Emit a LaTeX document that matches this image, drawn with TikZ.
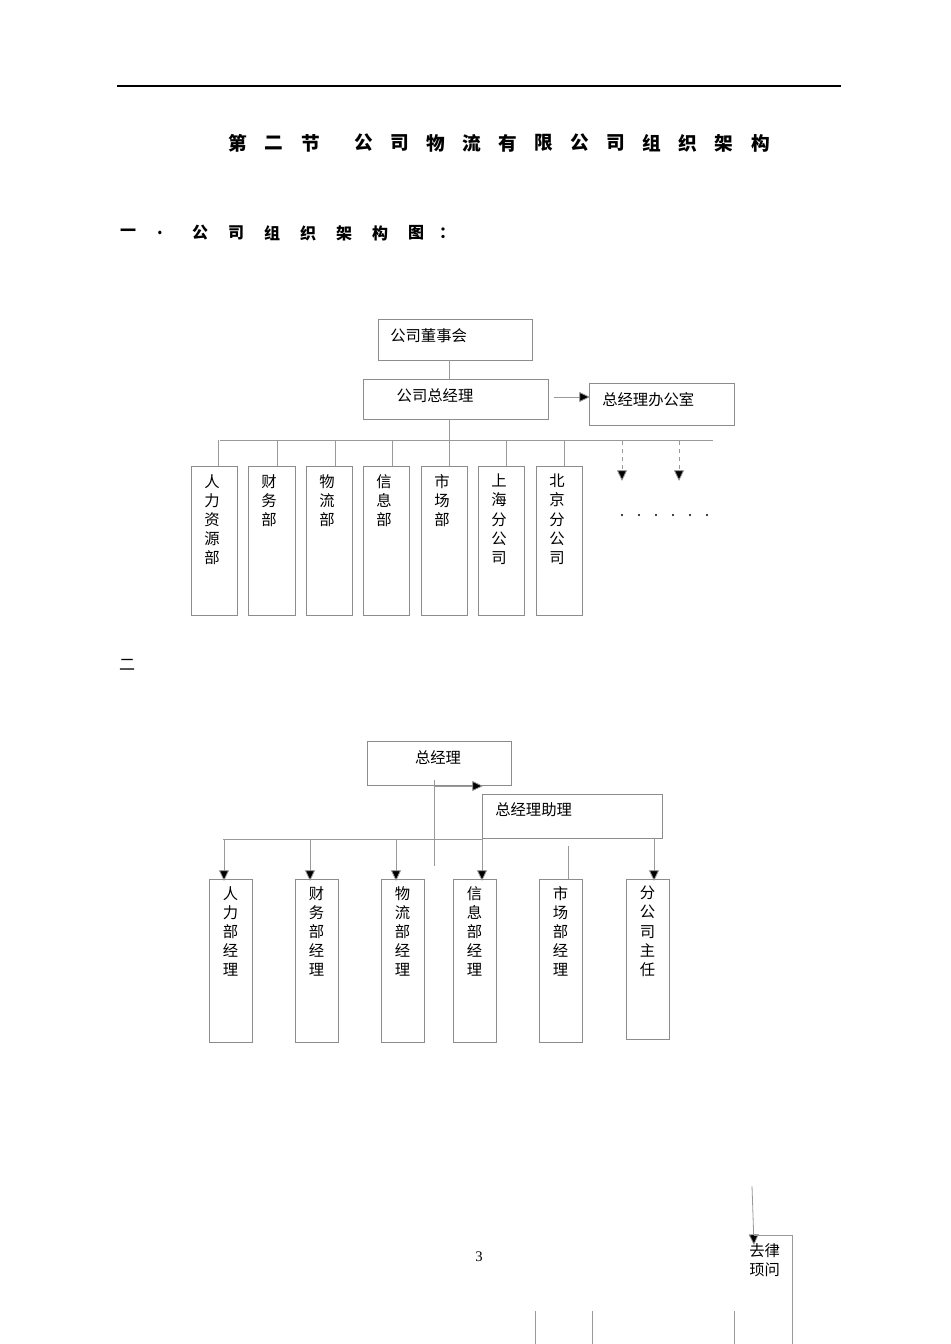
\documentclass[tikz,border=0pt]{standalone}
\usepackage{fontspec}
\setmainfont{Liberation Serif}
\newfontfamily\cjk{Noto Sans CJK SC}
\usetikzlibrary{arrows.meta}
\tikzset{
  bx/.style={draw=black!45,line width=0.6pt},
  ln/.style={draw=black!40,line width=0.6pt},
  tip/.style={-{Triangle[length=8pt,width=7.5pt,fill=black]}},
  arr/.style={ln,tip},
  lab/.style={font=\cjk\fontsize{11.5}{14}\selectfont,inner sep=0pt},
  vlab/.style={lab,align=center,anchor=north,font=\cjk\fontsize{11.5}{14.3}\selectfont},
  ttl/.style={font=\cjk\bfseries\fontsize{14}{16}\selectfont,inner sep=0pt},
  sttl/.style={font=\cjk\bfseries\fontsize{12}{14}\selectfont,inner sep=0pt},
}
\begin{document}
\begin{tikzpicture}[x=0.75pt,y=-0.75pt]
\useasboundingbox (0,0) rectangle (950,1344);
\draw[line width=0.9pt] (117,86) -- (841,86);
\foreach \x/\c in {238/第,274/二,311/节,364/公,400/司,436/物,472/流,508/有,544/限,580/公,616/司,652/组,688/织,724/架,761/构}{
  \node[ttl] at (\x,143) {\c};
}
\foreach \x/\c in {128/一,160/.,200/公,236/司,272/组,308/织,344/架,380/构,416/图,447/：}{
  \node[sttl] at (\x,233) {\c};
}
% chart 1
\draw[bx] (378,319) rectangle (532,360);
\node[lab,anchor=west] (dsh) at (390,336) {公司董事会};
\draw[bx] (363,379) rectangle (548,419);
\node[lab] (zjl) at (435,396) {公司总经理};
\draw[bx] (589,383) rectangle (734,425);
\node[lab,anchor=west] (bgs) at (602,400) {总经理办公室};
\coordinate (a1) at (554,397); \coordinate (a2) at (590,397);
\draw[arr] (a1) -- (a2);
\coordinate (v1) at (449,360); \coordinate (v2) at (449,379);
\draw[ln] (v1) -- (v2);
\coordinate (v3) at (449,419); \coordinate (v4) at (449,440);
\draw[ln] (v3) -- (v4);
\coordinate (h1) at (220,440); \coordinate (h2) at (713,440);
\draw[ln] (h1) -- (h2);
\foreach \l/\r/\t/\tx/\txt in {191/237/218/212/人\\力\\资\\源\\部, 248/295/277/269/财\\务\\部, 306/352/335/327/物\\流\\部, 363/409/392/384/信\\息\\部, 421/467/449/442/市\\场\\部, 478/524/506/499/上\\海\\分\\公\\司, 536/582/564/557/北\\京\\分\\公\\司}{
  \draw[bx] (\l,466) rectangle (\r,615);
  \draw[ln] (\t,440) -- (\t,466);
  \node[vlab] at (\tx,474) {\txt};
}
\foreach \x in {622,679}{
  \draw[ln,dashed,tip] (\x,441) -- (\x,481);
}
\foreach \x in {622,639,656,673,690,707}{ \fill (\x,515) circle (1.2); }
\node[font=\cjk\fontsize{12}{14}\selectfont,inner sep=0pt] (er) at (127,665) {二};
% chart 2
\draw[bx] (367,741) rectangle (511,785);
\node[lab] (z2) at (438,758) {总经理};
\draw[bx] (482,794) rectangle (662,838);
\node[lab,anchor=west] (zl) at (495,810) {总经理助理};
\draw[ln] (434,780) -- (434,866);
\draw[arr] (434,786) -- (483,786);
\draw[ln] (223,839) -- (482,839);
\foreach \l/\r/\b/\txt in {209/252/1042/人\\力\\部\\经\\理, 295/338/1042/财\\务\\部\\经\\理, 381/424/1042/物\\流\\部\\经\\理, 453/496/1042/信\\息\\部\\经\\理, 539/582/1042/市\\场\\部\\经\\理, 626/669/1039/分\\公\\司\\主\\任}{
  \draw[bx] (\l,879) rectangle (\r,\b);
  \node[vlab] at ({(\l+\r)/2},886) {\txt};
}
\foreach \x in {224,310,396,482}{ \draw[arr] (\x,839) -- (\x,881); }
\draw[arr] (654,838) -- (654,881);
\draw[ln] (568,846) -- (568,879);
% bottom
\node[font=\fontsize{11}{13}\selectfont,inner sep=0pt] (pg) at (479,1257) {3};
\draw[arr] (752,1186) -- (754,1245);
\draw[ln] (754,1235) -- (792,1235) -- (792,1344);
\node[vlab,anchor=north west,align=left] (gw) at (749,1243) {去律\\顼问};
\foreach \x in {535,592,734}{ \draw[ln] (\x,1311) -- (\x,1344); }
\end{tikzpicture}
\end{document}
